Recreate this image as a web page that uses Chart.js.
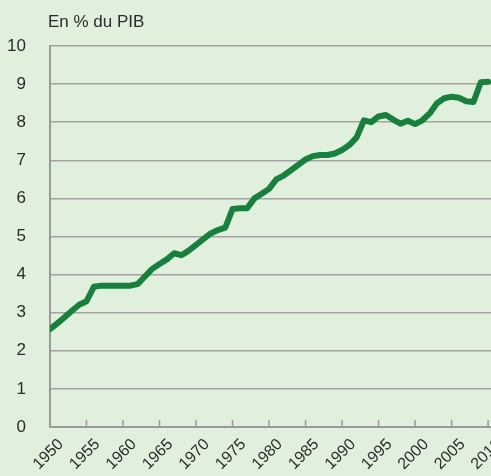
<!DOCTYPE html>
<html>
<head>
<meta charset="utf-8">
<script src="https://cdn.jsdelivr.net/npm/chart.js@4/dist/chart.umd.min.js"></script>
<style>
  html, body { margin: 0; padding: 0; background: #e1efdd; }
  #wrap { width: 491px; height: 476px; position: relative; }
</style>
</head>
<body>
<div id="wrap"><canvas id="pibChart" width="491" height="476"></canvas></div>
<script>
const FONT = "'Liberation Sans', Arial, sans-serif";

const years = [];
for (let y = 1950; y <= 2010; y++) years.push(y);

// En % du PIB
const values = [
  2.57, 2.72, 2.88, 3.05, 3.21, 3.3, 3.68, 3.71, 3.71, 3.71,   // 1950-1959
  3.71, 3.71, 3.75, 3.95, 4.15, 4.28, 4.4, 4.56, 4.51, 4.63,   // 1960-1969
  4.78, 4.93, 5.08, 5.17, 5.23, 5.72, 5.74, 5.74, 6.0, 6.12,   // 1970-1979
  6.25, 6.5, 6.6, 6.74, 6.88, 7.02, 7.11, 7.14, 7.14, 7.18,    // 1980-1989
  7.27, 7.4, 7.6, 8.05, 8.0, 8.15, 8.19, 8.07, 7.96, 8.04,     // 1990-1999
  7.95, 8.05, 8.23, 8.5, 8.63, 8.67, 8.64, 8.55, 8.53, 9.05,   // 2000-2009
  9.06                                                         // 2010
];

const yTicks = [0, 1, 2, 3, 4, 5, 6, 7, 8, 9, 10];
const xTicks = [1950, 1955, 1960, 1965, 1970, 1975, 1980, 1985, 1990, 1995, 2000, 2005, 2010];
const unitLabel = 'En % du PIB';

// petits traits vers l'intérieur sur l'axe des x + titre
const extras = {
  id: 'extras',
  beforeDatasetsDraw(chart) {
    const ctx = chart.ctx;
    const x = chart.scales.x;
    const bottom = chart.chartArea.bottom;
    ctx.save();
    ctx.strokeStyle = '#9a9a9a';
    ctx.lineWidth = 1.5;
    xTicks.forEach(t => {
      const px = x.getPixelForValue(t);
      ctx.beginPath();
      ctx.moveTo(px, bottom);
      ctx.lineTo(px, bottom - 7);
      ctx.stroke();
    });
    ctx.restore();
  },
  afterDraw(chart) {
    const ctx = chart.ctx;
    ctx.save();
    ctx.fillStyle = '#2b2b2b';
    ctx.font = '17px ' + FONT;
    ctx.textBaseline = 'alphabetic';
    ctx.textAlign = 'left';
    ctx.fillText(unitLabel, 48, 27);
    ctx.restore();
  }
};

new Chart(document.getElementById('pibChart'), {
  type: 'line',
  data: {
    datasets: [{
      data: years.map((y, i) => ({ x: y, y: values[i] })),
      borderColor: '#17803d',
      borderWidth: 6,
      borderCapStyle: 'round',
      borderJoinStyle: 'round',
      pointRadius: 0,
      tension: 0,
      fill: false
    }]
  },
  options: {
    responsive: false,
    animation: false,
    layout: { padding: { top: 46, left: 0, right: 0, bottom: 0 } },
    plugins: {
      legend: { display: false },
      tooltip: { enabled: false }
    },
    scales: {
      x: {
        type: 'linear',
        min: 1950,
        max: 2010.4,
        afterBuildTicks: s => { s.ticks = xTicks.map(v => ({ value: v })); },
        afterFit: s => { s.height = 49; s.paddingLeft = 0; s.paddingRight = 0; },
        grid: { drawOnChartArea: false, drawTicks: false },
        border: { display: true, color: '#9a9a9a', width: 2 },
        ticks: {
          minRotation: 45,
          maxRotation: 45,
          autoSkip: false,
          padding: 8,
          labelOffset: 11,
          color: '#2b2b2b',
          font: { family: FONT, size: 16 },
          callback: v => String(v)
        }
      },
      y: {
        min: 0,
        max: 10,
        afterBuildTicks: s => { s.ticks = yTicks.map(v => ({ value: v })); },
        afterFit: s => { s.width = 50; s.paddingTop = 0; s.paddingBottom = 0; },
        grid: { color: '#a3a3a3', lineWidth: 1.5, drawTicks: false },
        border: { display: true, color: '#9a9a9a', width: 2 },
        ticks: {
          padding: 24,
          color: '#2b2b2b',
          font: { family: FONT, size: 17 }
        }
      }
    }
  },
  plugins: [extras]
});
</script>
</body>
</html>
